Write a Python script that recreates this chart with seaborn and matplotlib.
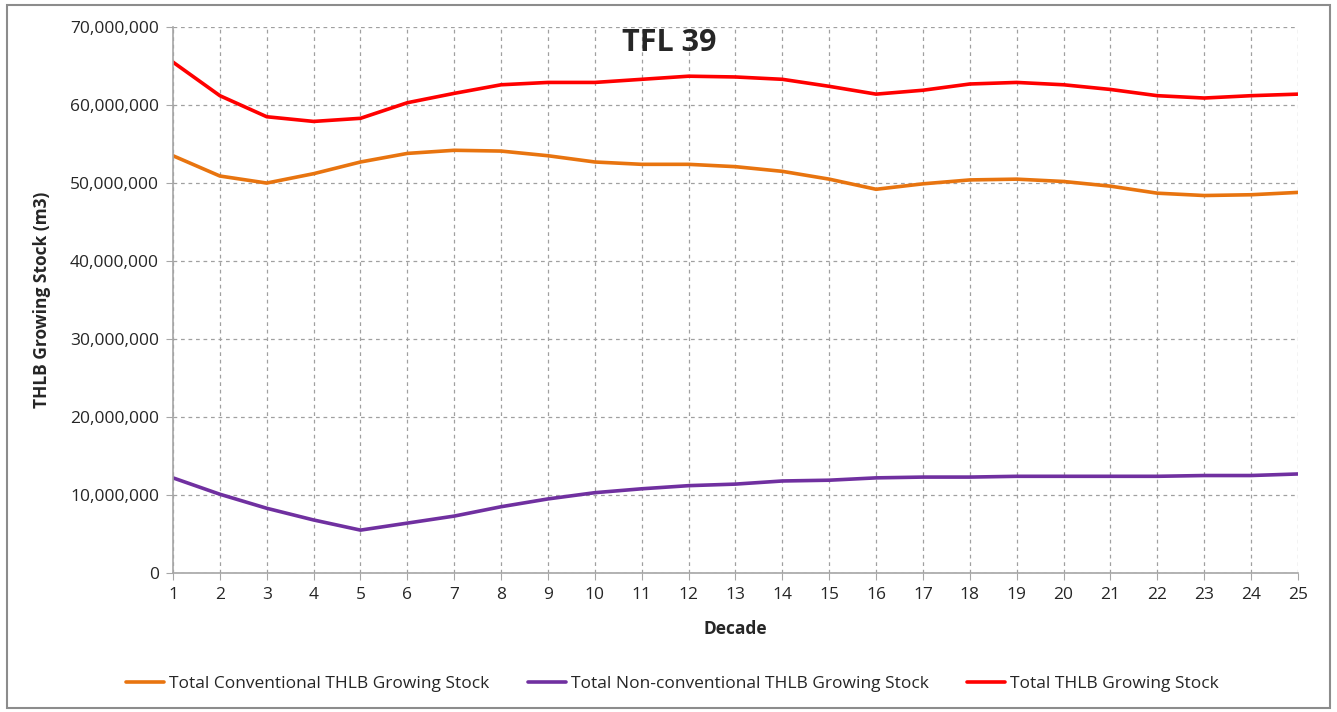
import pandas as pd
import matplotlib.pyplot as plt
import seaborn as sns
from matplotlib.ticker import FuncFormatter
from matplotlib.patches import Rectangle

# Data (in millions of m3)
decades = list(range(1, 26))
conventional = [53.5, 50.9, 50.0, 51.2, 52.7, 53.8, 54.2, 54.1, 53.5, 52.7,
                52.4, 52.4, 52.1, 51.5, 50.5, 49.2, 49.9, 50.4, 50.5, 50.2,
                49.6, 48.7, 48.4, 48.5, 48.8]
non_conventional = [12.2, 10.1, 8.3, 6.8, 5.5, 6.4, 7.3, 8.5, 9.5, 10.3,
                    10.8, 11.2, 11.4, 11.8, 11.9, 12.2, 12.3, 12.3, 12.4, 12.4,
                    12.4, 12.4, 12.5, 12.5, 12.7]
total = [65.5, 61.2, 58.5, 57.9, 58.3, 60.3, 61.5, 62.6, 62.9, 62.9,
         63.3, 63.7, 63.6, 63.3, 62.4, 61.4, 61.9, 62.7, 62.9, 62.6,
         62.0, 61.2, 60.9, 61.2, 61.4]

series_names = ["Total Conventional THLB Growing Stock",
                "Total Non-conventional THLB Growing Stock",
                "Total THLB Growing Stock"]
colors = ["#E8740F", "#7030A0", "#FF0000"]

rows = []
for name, vals in zip(series_names, [conventional, non_conventional, total]):
    for d, v in zip(decades, vals):
        rows.append({"Decade": d, "Stock": v * 1e6, "Series": name})
df = pd.DataFrame(rows)

sns.set_style("white")
plt.rcParams['font.family'] = ['Open Sans', 'DejaVu Sans']

fig = plt.figure(figsize=(13.37, 7.12), dpi=100)
ax = fig.add_axes([0.1294, 0.1952, 0.9708 - 0.1294, 0.962 - 0.1952])

sns.lineplot(data=df, x="Decade", y="Stock", hue="Series",
             palette=dict(zip(series_names, colors)), linewidth=2.6, ax=ax)

ax.set_xlim(1, 25)
ax.set_ylim(0, 70e6)
ax.set_xticks(decades)
ax.set_yticks(range(0, 70000001, 10000000))
ax.yaxis.set_major_formatter(FuncFormatter(lambda v, p: f"{int(v):,}"))
ax.tick_params(axis='both', labelsize=12.5, colors='#A6A6A6', length=5,
               direction='out', left=True, bottom=True, pad=5)
for lbl in ax.get_xticklabels() + ax.get_yticklabels():
    lbl.set_color('#262626')

ax.grid(True, linestyle=(0, (3, 3)), color='#A0A0A0', linewidth=0.9)
for s in ['top', 'right']:
    ax.spines[s].set_visible(False)
for s in ['left', 'bottom']:
    ax.spines[s].set_color('#A6A6A6')
    ax.spines[s].set_linewidth(1.2)

ax.set_xlabel("Decade", fontsize=12.5, fontweight='bold', labelpad=12)
ax.set_ylabel("THLB Growing Stock (m3)", fontsize=12.5, fontweight='bold', labelpad=14)
ax.text(0.441, 0.998, "TFL 39", transform=ax.transAxes, ha='center', va='top',
        fontsize=22, fontweight='bold')

handles, labels = ax.get_legend_handles_labels()
ax.legend_.remove()
fig.legend(handles, labels, loc='center', bbox_to_anchor=(0.503, 0.039), ncol=3,
           frameon=False, fontsize=12.5, handlelength=2.2, columnspacing=2.2,
           handletextpad=0.3)

fig.patches.append(Rectangle((0.005, 0.005), 0.99, 0.988, transform=fig.transFigure,
                             fill=False, edgecolor='#8C8C8C', linewidth=1.5))

plt.savefig("out.png", dpi=100)
